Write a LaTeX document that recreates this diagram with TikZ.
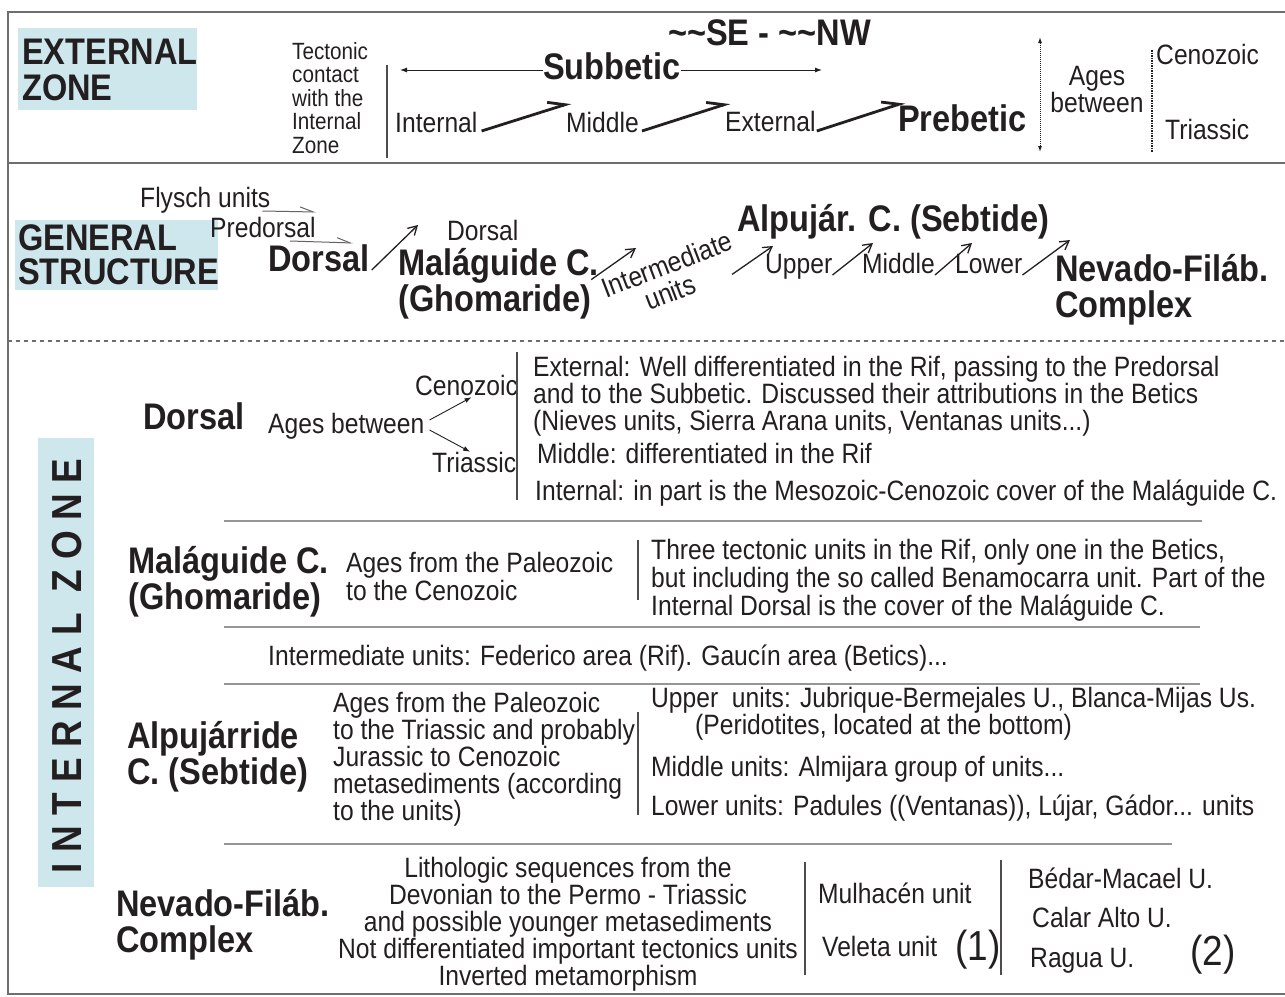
\documentclass[tikz,border=0pt]{standalone}
\usepackage{fontspec}
\setmainfont{Liberation Sans}[FakeStretch=0.88]
\newfontfamily\zonenschrift{Liberation Sans}[FakeStretch=0.88,LetterSpace=25]
\usetikzlibrary{arrows.meta}
\definecolor{schrift}{RGB}{35,31,32}
\definecolor{zonenblau}{RGB}{205,231,236}
\definecolor{rahmen}{RGB}{110,110,110}
\definecolor{trenn}{RGB}{150,150,150}

\begin{document}
\begin{tikzpicture}[x=1pt, y=-1pt,
    zeile/.style={font=\fontsize{28}{27}\selectfont, text=schrift, inner sep=0pt, text height=20pt, text depth=6pt, anchor=west},
    absatz/.style={font=\fontsize{28}{27}\selectfont, text=schrift, inner sep=0pt, align=left, anchor=north west},
    titel/.style={font=\fontsize{37}{36}\selectfont\bfseries, text=schrift, inner sep=0pt, align=left, anchor=north west},
    titelzeile/.style={font=\fontsize{37}{36}\selectfont\bfseries, text=schrift, inner sep=0pt, text height=27pt, text depth=8pt, anchor=west},
    gross/.style={font=\fontsize{42}{42}\selectfont, text=schrift, inner sep=0pt, text height=30pt, text depth=9pt, anchor=west},
    linie/.style={rahmen, line width=1.2pt},
    trennlinie/.style={trenn, line width=1.2pt},
    strich/.style={schrift!80, line width=1.3pt},
    schub/.style={schrift, line width=2.8pt, -{Straight Barb[harpoon, angle=50:18pt]}},
    pfeil/.style={schrift, line width=1.3pt, -{Straight Barb[angle=60:10pt]}},
    spitze/.style={schrift, line width=0.9pt, -{Latex[length=7pt,width=5pt]}},
    haken/.style={schrift!70, line width=1pt, -{Straight Barb[harpoon, angle=40:14pt]}}]
    \useasboundingbox (0,0) rectangle (1285,996);

    % Rahmen
    \draw[linie] (1285,12) -- (8,12) -- (8,994) -- (1285,994);
    \draw[linie] (8,163) -- (1285,163);
    \draw[linie, dash pattern=on 4pt off 4pt] (8,341) -- (1285,341);

    % Externe Zone
    \fill[zonenblau] (18,28) rectangle (197,110);
    \node[titel] (extzone) at (22,39) {EXTERNAL\\ZONE};
    \node[absatz, font=\fontsize{23.5}{23.5}\selectfont] (kontakt) at (292,42) {Tectonic\\contact\\with the\\Internal\\Zone};
    \coordinate (kontaktoben) at (387,65);
    \coordinate (kontaktunten) at (387,158);
    \draw[strich, line width=1.8pt] (kontaktoben) -- (kontaktunten);

    \node[titelzeile] (richtung) at (668,36) {\textasciitilde\textasciitilde SE - \textasciitilde\textasciitilde NW};
    \node[titelzeile] (subbetic) at (543,70) {Subbetic};
    \coordinate (nachinnen) at (400,70);
    \coordinate (nachaussen) at (822,70);
    \draw[spitze] (subbetic.west) -- (nachinnen);
    \draw[spitze] (subbetic.east) -- (nachaussen);

    \node[zeile] (intern) at (395,125) {Internal};
    \node[zeile] (mitte) at (566,125) {Middle};
    \node[zeile] (extern) at (725,124) {External};
    \node[titelzeile] (prebetic) at (898,122) {Prebetic};
    \draw[schub] ([shift={(4,6)}]intern.east) -- ([shift={(5,-9)}]mitte.north west);
    \draw[schub] ([shift={(3,6)}]mitte.east) -- ([shift={(5,-8)}]extern.north west);
    \draw[schub] ([shift={(1,7)}]extern.east) -- ([shift={(7,-2)}]prebetic.north west);

    % Alter
    \coordinate (alteroben) at (1040,37);
    \coordinate (alterunten) at (1040,152);
    \draw[schrift, densely dotted, line width=1pt, {Latex[length=6pt,width=4pt]}-{Latex[length=6pt,width=4pt]}] (alteroben) -- (alterunten);
    \node[absatz, align=center, anchor=center] (alter) at (1097,90) {Ages\\between};
    \coordinate (grenzeoben) at (1152,50);
    \coordinate (grenzeunten) at (1152,152);
    \draw[schrift, densely dotted, line width=1.5pt] (grenzeoben) -- (grenzeunten);
    \node[zeile] (kaeno1) at (1156,57) {Cenozoic};
    \node[zeile] (trias1) at (1165,132) {Triassic};

    % Allgemeine Struktur
    \fill[zonenblau] (15,220) rectangle (218,290);
    \node[titel, font=\fontsize{37}{34}\selectfont\bfseries] (struktur) at (18,224) {GENERAL\\STRUCTURE};
    \node[zeile] (flysch) at (140,200) {Flysch units};
    \coordinate (flyschende) at (316,212);
    \draw[haken] ([shift={(-8,11)}]flysch.east) -- (flyschende);
    \node[zeile] (predorsal) at (210,230) {Predorsal};
    \coordinate (predorsalende) at (353,243);
    \draw[haken] ([shift={(-26,11)}]predorsal.east) -- (predorsalende);

    \node[titelzeile] (dorsal) at (268,262) {Dorsal};
    \node[zeile] (dorsalklein) at (447,233) {Dorsal};
    \draw[pfeil] ([shift={(2,8)}]dorsal.east) -- ([shift={(-29,-8)}]dorsalklein.west);
    \node[titel] (malaguide) at (398,248) {Maláguide C.\\(Ghomaride)};
    \coordinate (malaguidepfeil) at (636,248);
    \draw[pfeil] ([shift={(-8,-4)}]malaguide.east) -- (malaguidepfeil);
    \node[zeile, anchor=center, rotate=21] (zwischen) at (668,267) {Intermediate};
    \node[zeile, anchor=center, rotate=21] (zwischeneinh) at (671,295) {units};
    \coordinate (zwischenpfeil) at (773,246);
    \draw[pfeil] ([shift={(0,32)}]zwischen.east) -- (zwischenpfeil);
    \node[titelzeile] (alpujarra) at (737,222) {Alpujár. C. (Sebtide)};
    \node[zeile] (ober) at (765,266) {Upper};
    \node[zeile] (mittel) at (862,266) {Middle};
    \node[zeile] (unter) at (955,266) {Lower};
    \coordinate (oberpfeil) at (873,243);
    \coordinate (mittelpfeil) at (972,243);
    \coordinate (unterpfeil) at (1070,240);
    \draw[pfeil] ([shift={(0,9)}]ober.east) -- (oberpfeil);
    \draw[pfeil] ([shift={(0,9)}]mittel.east) -- (mittelpfeil);
    \draw[pfeil] ([shift={(0,9)}]unter.east) -- (unterpfeil);
    \node[titel] (nevado) at (1055,254) {Nevado-Filáb.\\Complex};

    % Interne Zone
    \fill[zonenblau] (38,438) rectangle (94,887);
    \node[rotate=90, font=\zonenschrift\fontsize{42}{42}\selectfont\bfseries, text=schrift] (intzone) at (67,666) {INTERNAL ZONE};

    % Dorsal
    \node[titelzeile] (dorsal2) at (143,420) {Dorsal};
    \node[zeile] (alter2) at (268,426) {Ages between};
    \node[zeile] (kaeno2) at (415,388) {Cenozoic};
    \node[zeile] (trias2) at (432,465) {Triassic};
    \draw[spitze] ([shift={(5,-6)}]alter2.east) -- ([shift={(5,-4)}]kaeno2.south);
    \draw[spitze] ([shift={(5,4)}]alter2.east) -- ([shift={(-4,0)}]trias2.north);
    \coordinate (dorsaloben) at (517,352);
    \coordinate (dorsalunten) at (517,500);
    \draw[strich] (dorsaloben) -- (dorsalunten);
    \node[absatz] (dorsalext) at (533,356) {External: Well differentiated in the Rif, passing to the Predorsal\\and to the Subbetic. Discussed their attributions in the Betics\\(Nieves units, Sierra Arana units, Ventanas units...)};
    \node[zeile] (dorsalmit) at (537,456) {Middle: differentiated in the Rif};
    \node[zeile] (dorsalint) at (535,493) {Internal: in part is the Mesozoic-Cenozoic cover of the Maláguide C.};
    \draw[trennlinie] (224,521) -- (1202,521);

    % Malaguide
    \node[titel] (malaguide2) at (128,546) {Maláguide C.\\(Ghomaride)};
    \node[absatz, font=\fontsize{28}{28}\selectfont] (malalter) at (346,552) {Ages from the Paleozoic\\to the Cenozoic};
    \coordinate (malaoben) at (638,540);
    \coordinate (malaunten) at (638,600);
    \draw[strich] (malaoben) -- (malaunten);
    \node[absatz, font=\fontsize{28}{28}\selectfont] (malatext) at (651,539) {Three tectonic units in the Rif, only one in the Betics,\\but including the so called Benamocarra unit. Part of the\\Internal Dorsal is the cover of the Maláguide C.};
    \draw[trennlinie] (224,627) -- (1200,627);

    % Intermediate
    \node[zeile] (zwischen2) at (268,658) {Intermediate units: Federico area (Rif). Gaucín area (Betics)...};
    \draw[trennlinie] (224,684) -- (1200,684);

    % Alpujarride
    \node[titel] (alpujarra2) at (127,721) {Alpujárride\\C. (Sebtide)};
    \node[absatz] (alpalter) at (333,692) {Ages from the Paleozoic\\to the Triassic and probably\\Jurassic to Cenozoic\\metasediments (according\\to the units)};
    \coordinate (alpoben) at (638,712);
    \coordinate (alpunten) at (638,815);
    \draw[strich] (alpoben) -- (alpunten);
    \node[zeile] (alpober) at (651,700) {Upper\ \ units: Jubrique-Bermejales U., Blanca-Mijas Us.};
    \node[zeile] (peridotit) at (695,727) {(Peridotites, located at the bottom)};
    \node[zeile] (alpmittel) at (651,769) {Middle units: Almijara group of units...};
    \node[zeile] (alpunter) at (651,808) {Lower units: Padules ((Ventanas)), Lújar, Gádor... units};
    \draw[trennlinie] (224,844) -- (1172,844);

    % Nevado-Filabride
    \node[titel] (nevado2) at (116,889) {Nevado-Filáb.\\Complex};
    \node[absatz, align=center, anchor=north] (nevtext) at (568,857) {Lithologic sequences from the\\Devonian to the Permo - Triassic\\and possible younger metasediments\\Not differentiated important tectonics units\\Inverted metamorphism};
    \coordinate (nevoben) at (805,862);
    \coordinate (nevunten) at (805,975);
    \draw[strich] (nevoben) -- (nevunten);
    \node[zeile] (mulhacen) at (818,896) {Mulhacén unit};
    \node[zeile] (veleta) at (822,949) {Veleta unit};
    \node[gross] (eins) at (955,950) {(1)};
    \coordinate (nevoben2) at (1001,860);
    \coordinate (nevunten2) at (1001,975);
    \draw[strich] (nevoben2) -- (nevunten2);
    \node[zeile] (bedar) at (1028,881) {Bédar-Macael U.};
    \node[zeile] (calar) at (1032,920) {Calar Alto U.};
    \node[zeile] (ragua) at (1030,960) {Ragua U.};
    \node[gross] (zwei) at (1190,955) {(2)};
\end{tikzpicture}
\end{document}
